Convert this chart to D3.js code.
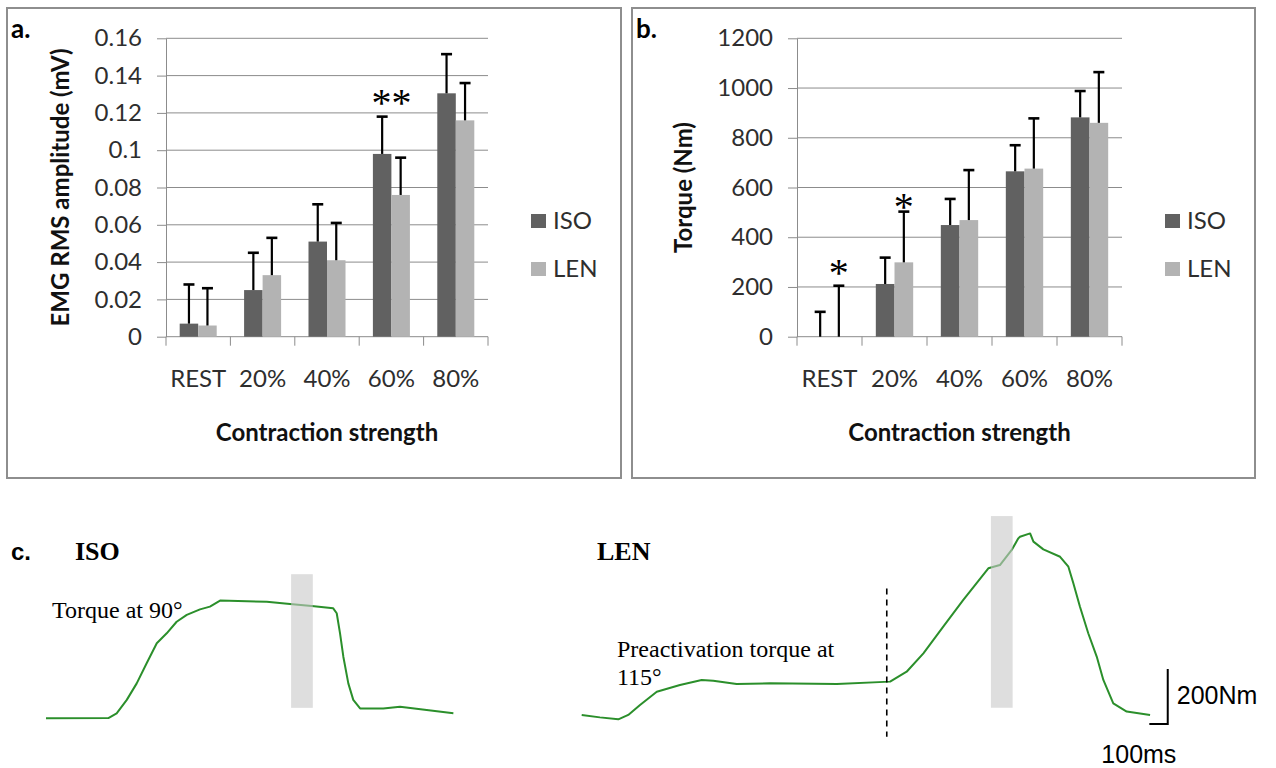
<!DOCTYPE html>
<html><head><meta charset="utf-8">
<script src="https://cdn.jsdelivr.net/npm/d3@7/dist/d3.min.js"></script>
<style>body{margin:0;background:#fff} svg{display:block}</style>
</head><body>
<svg id="chart" width="1276" height="768"></svg>
<script>
// ---------- data ----------
const categories = ["REST", "20%", "40%", "60%", "80%"];
const seriesNames = ["ISO", "LEN"];

// panel a: EMG RMS amplitude (mV)
const emgISO = [0.007, 0.025, 0.051, 0.098, 0.1305];
const emgISOsd = [0.021, 0.020, 0.020, 0.020, 0.021];
const emgLEN = [0.006, 0.033, 0.041, 0.076, 0.116];
const emgLENsd = [0.020, 0.020, 0.020, 0.020, 0.020];
const emgTicks = [0, 0.02, 0.04, 0.06, 0.08, 0.1, 0.12, 0.14, 0.16];
const emgTickLabels = ["0", "0.02", "0.04", "0.06", "0.08", "0.1", "0.12", "0.14", "0.16"];
const emgStars = [{cat: "60%", series: null, value: 0.128, text: "**"}];

// panel b: Torque (Nm)
const torqueISO = [0, 212, 449, 665, 882];
const torqueISOsd = [100, 106, 105, 105, 106];
const torqueLEN = [0, 299, 469, 676, 860];
const torqueLENsd = [205, 204, 201, 202, 204];
const torqueTicks = [0, 200, 400, 600, 800, 1000, 1200];
const torqueTickLabels = ["0", "200", "400", "600", "800", "1000", "1200"];
const torqueStars = [
  {cat: "REST", series: "LEN", value: 276, text: "*"},
  {cat: "20%", series: "LEN", value: 543, text: "*"}
];

// panel c: torque traces (time in ms, torque in Nm)
const isoTime = [0, 339, 384, 439, 493, 547, 602, 656, 710, 765, 837, 891, 946, 1200, 1326, 1444, 1561, 1580, 1598, 1616, 1643, 1670, 1707, 1833, 1924, 2069, 2214];
const isoTorque = [0, 1, 18, 67, 127, 200, 273, 309, 351, 376, 396, 406, 428, 424, 416, 408, 400, 382, 309, 224, 127, 67, 36, 36, 42, 30, 18];
const lenTime = [0, 99, 199, 253, 317, 408, 534, 652, 715, 842, 1023, 1386, 1676, 1766, 1857, 1965, 2074, 2210, 2273, 2337, 2373, 2382, 2437, 2455, 2509, 2600, 2645, 2672, 2708, 2753, 2799, 2835, 2889, 2962, 3089];
const lenTorque = [16, 7, 0, 16, 52, 100, 125, 143, 140, 128, 131, 128, 137, 173, 240, 337, 434, 549, 561, 616, 658, 664, 676, 646, 618, 591, 555, 495, 409, 313, 228, 143, 58, 28, 16];
const isoBand = {t0: 1332, t1: 1450, v0: 38, v1: 524};
const lenBand = {t0: 2224, t1: 2342, v0: 42, v1: 739};
const lenDashed = {t: 1658, v0: -63, v1: 476};
const scaleBar = {t0: 3085, t1: 3185, v0: -17, v1: 183, timeLabel: "100ms", torqueLabel: "200Nm"};

// ---------- drawing ----------
const svg = d3.select("#chart");
const SANS = "Lato, 'Open Sans', sans-serif";
const SERIF = "'Liberation Serif', 'DejaVu Serif', serif";
const ARIAL = "'Liberation Sans', Arial, sans-serif";
const colISO = "#616161", colLEN = "#b3b3b3", gridCol = "#8c8c8c";
const FS = 24;

function barPanel(o) {
  const g = svg.append("g");
  g.append("rect").attr("x", o.box[0]).attr("y", o.box[1])
    .attr("width", o.box[2] - o.box[0]).attr("height", o.box[3] - o.box[1])
    .attr("fill", "none").attr("stroke", "#8e8e8e").attr("stroke-width", 2);

  const x = d3.scaleBand().domain(categories).range([o.left, o.right]);
  const xs = d3.scaleBand().domain(seriesNames).range([0, x.bandwidth()]).paddingOuter(0.74).paddingInner(0);
  const y = d3.scaleLinear().domain([o.ticks[0], o.ticks[o.ticks.length - 1]]).range([o.bottom, o.top]);

  // gridlines
  g.append("g").selectAll("line").data(o.ticks.slice(1)).join("line")
    .attr("x1", o.left).attr("x2", o.right)
    .attr("y1", d => y(d)).attr("y2", d => y(d))
    .attr("stroke", gridCol).attr("stroke-width", 1);

  // y axis
  const ya = g.append("g").attr("transform", `translate(${o.left},0)`)
    .call(d3.axisLeft(y).tickValues(o.ticks).tickFormat((d, i) => o.tickLabels[i]).tickSize(9).tickPadding(15).tickSizeOuter(0));
  ya.selectAll("path, line").attr("stroke", gridCol);
  ya.selectAll("text").attr("font-family", SANS).attr("font-size", FS).attr("fill", "#2e2e2e");

  // x axis
  const xa = g.append("g").attr("transform", `translate(0,${o.bottom})`)
    .call(d3.axisBottom(x).tickSize(0).tickPadding(33));
  xa.select("path").remove();
  xa.selectAll("text").attr("font-family", SANS).attr("font-size", FS).attr("fill", "#2e2e2e");
  g.append("line").attr("x1", o.left).attr("x2", o.right).attr("y1", o.bottom).attr("y2", o.bottom).attr("stroke", gridCol);
  const bounds = categories.map(c => x(c)).concat([x(categories[categories.length - 1]) + x.bandwidth()]);
  g.append("g").selectAll("line").data(bounds).join("line")
    .attr("x1", d => d).attr("x2", d => d).attr("y1", o.bottom).attr("y2", o.bottom + 9)
    .attr("stroke", gridCol);

  // bars
  const rows = [];
  categories.forEach((c, i) => {
    rows.push({cat: c, s: "ISO", v: o.iso[i], sd: o.isoSd[i]});
    rows.push({cat: c, s: "LEN", v: o.len[i], sd: o.lenSd[i]});
  });
  g.append("g").selectAll("rect").data(rows).join("rect")
    .attr("x", d => x(d.cat) + xs(d.s)).attr("width", xs.bandwidth())
    .attr("y", d => y(d.v)).attr("height", d => y(0) - y(d.v))
    .attr("fill", d => d.s === "ISO" ? colISO : colLEN);

  // error bars (positive only)
  const eb = g.append("g").attr("stroke", "#000").attr("stroke-width", 2.2);
  eb.selectAll("line.v").data(rows).join("line").attr("class", "v")
    .attr("x1", d => x(d.cat) + xs(d.s) + xs.bandwidth() / 2).attr("x2", d => x(d.cat) + xs(d.s) + xs.bandwidth() / 2)
    .attr("y1", d => y(d.v)).attr("y2", d => y(d.v + d.sd));
  eb.selectAll("line.c").data(rows).join("line").attr("class", "c")
    .attr("x1", d => x(d.cat) + xs(d.s) + xs.bandwidth() / 2 - 5.5).attr("x2", d => x(d.cat) + xs(d.s) + xs.bandwidth() / 2 + 5.5)
    .attr("y1", d => y(d.v + d.sd)).attr("y2", d => y(d.v + d.sd))
    .attr("stroke-width", 2.6);

  // significance stars
  g.append("g").selectAll("text").data(o.stars).join("text")
    .attr("x", d => d.series ? x(d.cat) + xs(d.series) + xs.bandwidth() / 2 : x(d.cat) + x.bandwidth() / 2)
    .attr("y", d => y(d.value) + 18)
    .attr("text-anchor", "middle").attr("font-family", SERIF).attr("font-size", 40)
    .text(d => d.text);

  // axis titles
  g.append("text").attr("x", (o.left + o.right) / 2).attr("y", 441)
    .attr("text-anchor", "middle").attr("font-family", SANS).attr("font-weight", "bold").attr("font-size", FS)
    .attr("fill", "#111").text("Contraction strength");
  g.append("text").attr("transform", `translate(${o.ytitleX},${(o.top + o.bottom) / 2}) rotate(-90)`)
    .attr("text-anchor", "middle").attr("font-family", SANS).attr("font-weight", "bold").attr("font-size", FS)
    .attr("fill", "#111").text(o.ytitle);

  // panel letter
  g.append("text").attr("x", o.box[0] + 4).attr("y", 38)
    .attr("font-family", SANS).attr("font-weight", "bold").attr("font-size", 26).attr("fill", "#000").text(o.letter);

  // legend
  const lg = g.append("g").attr("transform", `translate(${o.legendX},214)`);
  seriesNames.forEach((s, i) => {
    lg.append("rect").attr("x", 0).attr("y", i * 48).attr("width", 15).attr("height", 14)
      .attr("fill", s === "ISO" ? colISO : colLEN);
    lg.append("text").attr("x", 22).attr("y", i * 48 + 15)
      .attr("font-family", SANS).attr("font-size", FS).attr("fill", "#2e2e2e").text(s);
  });
}

barPanel({
  box: [7, 8, 621, 478], left: 166, right: 488, top: 38.3, bottom: 336.7,
  ticks: emgTicks, tickLabels: emgTickLabels,
  iso: emgISO, isoSd: emgISOsd, len: emgLEN, lenSd: emgLENsd,
  stars: emgStars, ytitle: "EMG RMS amplitude (mV)", ytitleX: 69, letter: "a.", legendX: 531
});
barPanel({
  box: [632, 8, 1255, 478], left: 797, right: 1122, top: 38.3, bottom: 336.7,
  ticks: torqueTicks, tickLabels: torqueTickLabels,
  iso: torqueISO, isoSd: torqueISOsd, len: torqueLEN, lenSd: torqueLENsd,
  stars: torqueStars, ytitle: "Torque (Nm)", ytitleX: 692, letter: "b.", legendX: 1165
});

// ---------- panel c ----------
const gc = svg.append("g");
const green = "#2b8f2b";

function tracePanel(time, torque, x0, y0, band) {
  const x = d3.scaleLinear().domain([0, 100]).range([x0, x0 + 18.4]);
  const y = d3.scaleLinear().domain([0, 200]).range([y0, y0 - 55]);
  const pts = time.map((t, i) => [t, torque[i]]);
  gc.append("path").datum(pts)
    .attr("d", d3.line().x(d => x(d[0])).y(d => y(d[1])))
    .attr("fill", "none").attr("stroke", green).attr("stroke-width", 2).attr("stroke-linejoin", "round");
  gc.append("rect").attr("x", x(band.t0)).attr("width", x(band.t1) - x(band.t0))
    .attr("y", y(band.v1)).attr("height", y(band.v0) - y(band.v1))
    .attr("fill", "#c8c8c8").attr("opacity", 0.6);
  return {x, y};
}

tracePanel(isoTime, isoTorque, 46, 718.3, isoBand);
const len = tracePanel(lenTime, lenTorque, 581.7, 719.3, lenBand);

gc.append("line").attr("x1", len.x(lenDashed.t)).attr("x2", len.x(lenDashed.t))
  .attr("y1", len.y(lenDashed.v1)).attr("y2", len.y(lenDashed.v0))
  .attr("stroke", "#000").attr("stroke-width", 1.6).attr("stroke-dasharray", "6,5");

// scale bar
gc.append("path")
  .attr("d", `M${len.x(scaleBar.t0)},${len.y(scaleBar.v0)}H${len.x(scaleBar.t1)}V${len.y(scaleBar.v1)}`)
  .attr("fill", "none").attr("stroke", "#000").attr("stroke-width", 2);
gc.append("text").attr("x", len.x(scaleBar.t1) + 9).attr("y", len.y(scaleBar.v0) - 20)
  .attr("font-family", ARIAL).attr("font-size", 25).text(scaleBar.torqueLabel);
gc.append("text").attr("x", len.x(scaleBar.t0) - 48).attr("y", 763)
  .attr("font-family", ARIAL).attr("font-size", 25).text(scaleBar.timeLabel);

// labels
gc.append("text").attr("x", 11).attr("y", 560).attr("font-family", ARIAL).attr("font-weight", "bold").attr("font-size", 24).text("c.");
gc.append("text").attr("x", 75).attr("y", 560).attr("font-family", SERIF).attr("font-weight", "bold").attr("font-size", 26).text("ISO");
gc.append("text").attr("x", 597).attr("y", 560).attr("font-family", SERIF).attr("font-weight", "bold").attr("font-size", 26).text("LEN");
gc.append("text").attr("x", 52).attr("y", 618).attr("font-family", SERIF).attr("font-size", 24).text("Torque at 90°");
gc.append("text").attr("x", 617).attr("y", 657).attr("font-family", SERIF).attr("font-size", 24).text("Preactivation torque at");
gc.append("text").attr("x", 617).attr("y", 685).attr("font-family", SERIF).attr("font-size", 24).text("115°");
</script>
</body></html>
